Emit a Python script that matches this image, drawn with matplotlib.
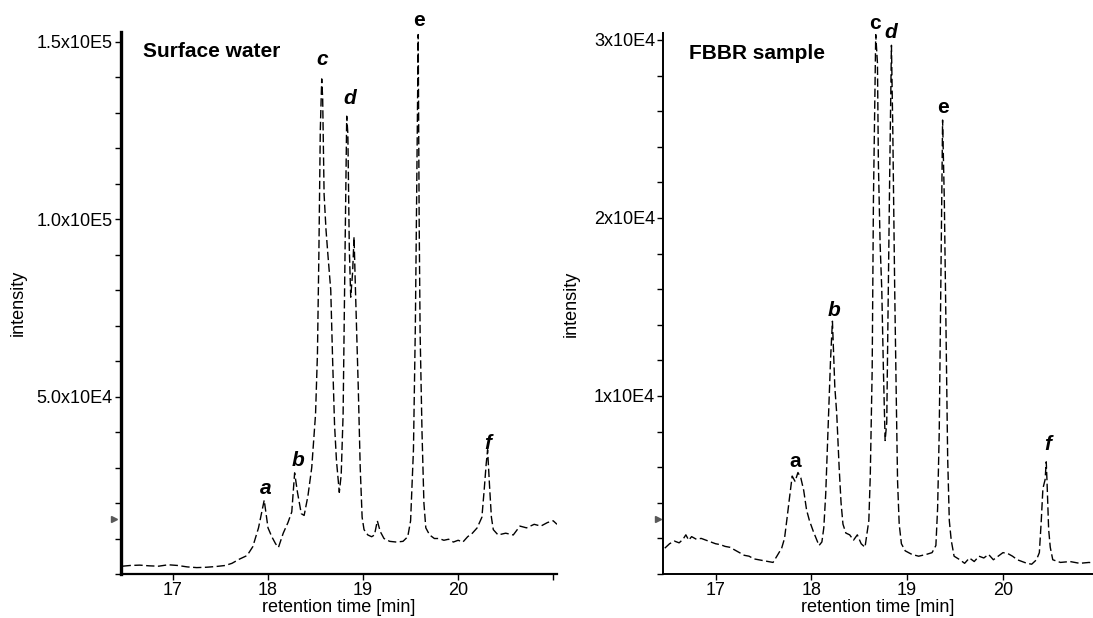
"""
Chromatograms: surface water vs FBBR sample (retention time 16.5-21 min).
"""

import matplotlib
matplotlib.use("Agg")
import matplotlib.pyplot as plt
from matplotlib.ticker import FixedLocator, MultipleLocator

plt.rcParams["font.family"] = ["Liberation Sans", "DejaVu Sans"]

# --- Surface water trace (time in min, intensity in 1e3 counts) ---
sw_time = [
    16.47, 16.55, 16.65, 16.75, 16.85, 16.95, 17.05, 17.15, 17.25, 17.35,
    17.45, 17.55, 17.62, 17.70, 17.78, 17.84, 17.90, 17.96, 18.00, 18.04,
    18.08, 18.11, 18.16, 18.21, 18.25, 18.28, 18.31, 18.35, 18.38, 18.42,
    18.46, 18.50, 18.52, 18.535, 18.55, 18.565, 18.575, 18.59, 18.61, 18.63,
    18.66, 18.68, 18.70, 18.72, 18.75, 18.77, 18.79, 18.81, 18.828, 18.84,
    18.855, 18.87, 18.89, 18.905, 18.92, 18.95, 18.97, 18.99, 19.01, 19.05,
    19.09, 19.12, 19.15, 19.18, 19.22, 19.28, 19.35, 19.42, 19.47, 19.50,
    19.53, 19.55, 19.565, 19.58, 19.59, 19.60, 19.62, 19.64, 19.66, 19.70,
    19.75, 19.80, 19.85, 19.90, 19.95, 20.00, 20.05, 20.10, 20.15, 20.20,
    20.25, 20.275, 20.295, 20.31, 20.33, 20.35, 20.37, 20.42, 20.50, 20.58,
    20.65, 20.72, 20.80, 20.87, 20.94, 21.00, 21.04,
]
sw_intensity_k = [
    2.2, 2.4, 2.5, 2.3, 2.2, 2.6, 2.4, 2.0, 1.8, 1.9,
    2.1, 2.4, 3.0, 4.2, 5.2, 7.7, 13.0, 20.8, 13.0, 10.5,
    8.5, 7.5, 11.5, 14.5, 17.5, 28.5, 23.0, 17.0, 16.5, 22.0,
    30.0, 45.0, 62.0, 90.0, 125.0, 139.5, 134.0, 107.0, 97.0, 90.0,
    80.0, 60.0, 42.0, 32.0, 23.0, 28.0, 45.0, 90.0, 129.0, 124.0,
    92.0, 78.0, 85.0, 95.0, 80.0, 52.0, 30.0, 16.0, 12.5, 11.0,
    10.5, 11.0, 15.0, 12.0, 10.0, 9.2, 9.0, 9.2, 10.5, 15.0,
    35.0, 70.0, 110.0, 152.0, 100.0, 68.0, 40.0, 20.0, 13.0, 11.0,
    10.0, 10.0, 9.5, 9.8, 9.0, 9.5, 9.0, 10.5, 11.5, 13.0,
    16.0, 24.0, 31.0, 35.0, 25.0, 16.0, 12.5, 11.0, 11.5, 11.0,
    13.5, 13.0, 14.0, 13.5, 14.5, 15.0, 14.0,
]

# --- FBBR sample trace (time in min, intensity in 1e3 counts) ---
fb_time = [
    16.47, 16.52, 16.57, 16.62, 16.66, 16.69, 16.72, 16.75, 16.80, 16.85,
    16.90, 16.95, 17.00, 17.05, 17.10, 17.15, 17.20, 17.25, 17.30, 17.35,
    17.40, 17.45, 17.50, 17.55, 17.60, 17.64, 17.69, 17.72, 17.75, 17.77,
    17.80, 17.83, 17.86, 17.89, 17.92, 17.95, 17.98, 18.02, 18.05, 18.08,
    18.11, 18.13, 18.15, 18.17, 18.20, 18.22, 18.245, 18.265, 18.29, 18.31,
    18.33, 18.36, 18.40, 18.44, 18.48, 18.52, 18.56, 18.60, 18.615, 18.635,
    18.648, 18.672, 18.69, 18.70, 18.718, 18.735, 18.752, 18.77, 18.787, 18.80,
    18.818, 18.836, 18.85, 18.87, 18.889, 18.90, 18.917, 18.94, 18.98, 19.05,
    19.12, 19.20, 19.26, 19.30, 19.318, 19.335, 19.353, 19.37, 19.388, 19.405,
    19.423, 19.44, 19.46, 19.49, 19.55, 19.60, 19.65, 19.70, 19.75, 19.80,
    19.85, 19.90, 19.95, 20.00, 20.05, 20.10, 20.15, 20.20, 20.25, 20.30,
    20.35, 20.38, 20.40, 20.417, 20.44, 20.452, 20.46, 20.477, 20.494, 20.52,
    20.60, 20.70, 20.80, 20.90, 20.95,
]
fb_intensity_k = [
    1.45, 1.7, 1.85, 1.75, 1.95, 2.2, 1.9, 2.1, 1.95, 2.0,
    1.9, 1.8, 1.7, 1.65, 1.55, 1.5, 1.35, 1.2, 1.05, 1.0,
    0.85, 0.8, 0.75, 0.7, 0.65, 1.0, 1.45, 2.0, 3.3, 4.2,
    5.5, 5.2, 5.7, 5.4, 4.7, 3.6, 3.0, 2.4, 2.0, 1.6,
    1.8, 2.6, 4.5, 7.5, 12.0, 14.2, 10.5, 9.0, 6.0, 4.0,
    2.8, 2.3, 2.2, 1.9, 2.2, 1.7, 1.5, 3.0, 5.5, 11.5,
    21.0, 30.3, 28.7, 23.0, 18.5, 16.0, 11.5, 7.5, 8.5, 14.5,
    22.5, 29.7, 25.0, 16.0, 9.0, 5.2, 2.8, 1.7, 1.3, 1.1,
    1.0, 1.1, 1.2, 1.6, 3.7, 8.0, 17.0, 25.5, 21.0, 14.0,
    6.5, 3.0, 1.9, 1.0, 0.8, 0.6, 0.9, 0.7, 1.0, 0.9,
    1.1, 0.8, 1.0, 1.2, 1.15, 1.0, 0.8, 0.7, 0.6, 0.55,
    0.8, 1.2, 3.0, 4.8, 5.3, 6.3, 5.2, 2.5, 1.5, 0.8,
    0.65, 0.7, 0.6, 0.65, 0.6,
]

x_ticks = [17, 18, 19, 20]
sw_yticks = [5e4, 1e5, 1.5e5]
sw_ylabels = ["5.0x10E4", "1.0x10E5", "1.5x10E5"]
fb_yticks = [1e4, 2e4, 3e4]
fb_ylabels = ["1x10E4", "2x10E4", "3x10E4"]

TRACE = dict(color="black", lw=1.0, linestyle=(0, (6, 2.5)))


def style_axis(ax, lw_left, lw_bottom):
    for side in ("top", "right"):
        ax.spines[side].set_visible(False)
    ax.spines["left"].set_linewidth(lw_left)
    ax.spines["bottom"].set_linewidth(lw_bottom)
    ax.tick_params(axis="both", which="both", direction="out", width=1.0,
                   labelsize=13, pad=2)
    ax.tick_params(axis="y", which="major", length=4)
    ax.tick_params(axis="y", which="minor", length=4)
    ax.tick_params(axis="x", which="major", length=4)
    ax.set_xlabel("retention time [min]", fontsize=13, labelpad=0)
    ax.set_ylabel("intensity", fontsize=13)


def add_peak_labels(ax, labels):
    for txt, x, y, italic in labels:
        ax.text(x, y, txt, fontsize=15, fontweight="bold",
                style="italic" if italic else "normal",
                ha="center", va="center", clip_on=False)


fig = plt.figure(figsize=(10.93, 6.18), dpi=100)

# --- Surface water ---
ax1 = fig.add_axes([0.1104, 0.0712, 0.3992, 0.8775])
ax1.plot(sw_time, [v * 1e3 for v in sw_intensity_k], **TRACE)
ax1.set_xlim(16.45, 21.04)
ax1.set_ylim(0, 1.528e5)
ax1.xaxis.set_major_locator(FixedLocator(x_ticks + [21]))
ax1.set_xticklabels([str(t) for t in x_ticks] + [""])
ax1.yaxis.set_major_locator(FixedLocator(sw_yticks))
ax1.set_yticklabels(sw_ylabels)
ax1.yaxis.set_minor_locator(MultipleLocator(1e4))
style_axis(ax1, 2.4, 1.6)
ax1.yaxis.set_label_coords(-0.215, 0.5)
ax1.text(0.051, 0.963, "Surface water", transform=ax1.transAxes,
         fontsize=15, fontweight="bold", va="center", ha="left")
ax1.plot([-0.015], [1.55e4], marker=">", ms=5, color="0.35",
         transform=ax1.get_yaxis_transform(), clip_on=False)
add_peak_labels(ax1, [
    ("a", 17.976, 2.41e4, True),
    ("b", 18.32, 3.21e4, True),
    ("c", 18.57, 1.45e5, True),
    ("d", 18.86, 1.34e5, True),
    ("e", 19.585, 1.56e5, False),
    ("f", 20.31, 3.68e4, True),
])

# --- FBBR sample ---
ax2 = fig.add_axes([0.6069, 0.0712, 0.3931, 0.8754])
ax2.plot(fb_time, [v * 1e3 for v in fb_intensity_k], **TRACE)
ax2.set_xlim(16.455, 20.94)
ax2.set_ylim(0, 3.039e4)
ax2.xaxis.set_major_locator(FixedLocator(x_ticks))
ax2.set_xticklabels([str(t) for t in x_ticks])
ax2.yaxis.set_major_locator(FixedLocator(fb_yticks))
ax2.set_yticklabels(fb_ylabels)
ax2.yaxis.set_minor_locator(MultipleLocator(2e3))
style_axis(ax2, 1.4, 1.4)
ax2.yaxis.set_label_coords(-0.195, 0.5)
ax2.text(0.059, 0.963, "FBBR sample", transform=ax2.transAxes,
         fontsize=15, fontweight="bold", va="center", ha="left")
ax2.plot([-0.012], [3.1e3], marker=">", ms=5, color="0.35",
         transform=ax2.get_yaxis_transform(), clip_on=False)
add_peak_labels(ax2, [
    ("a", 17.835, 6.3e3, False),
    ("b", 18.236, 1.48e4, True),
    ("c", 18.665, 3.09e4, False),
    ("d", 18.83, 3.04e4, True),
    ("e", 19.377, 2.62e4, False),
    ("f", 20.47, 7.3e3, True),
])

fig.savefig("out.png", dpi=100)
plt.close(fig)
